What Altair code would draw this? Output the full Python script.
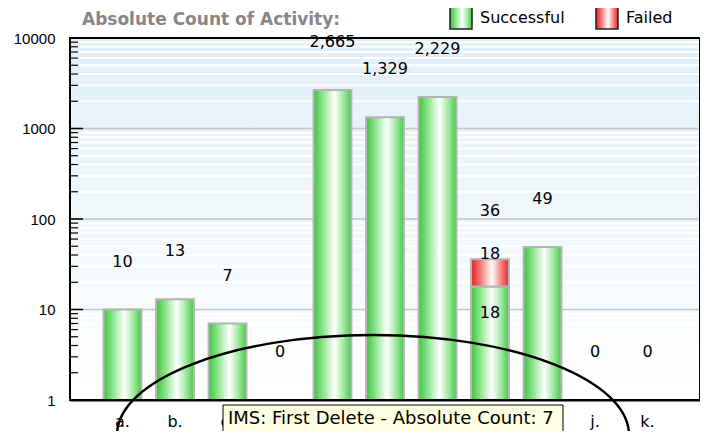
import altair as alt
import pandas as pd

categories = ["a.", "b.", "c.", "d.", "e.", "f.", "g.", "h.", "i.", "j.", "k."]
successful = [10, 13, 7, 0, 2665, 1329, 2229, 18, 49, 0, 0]
failed = [0, 0, 0, 0, 0, 0, 0, 18, 0, 0, 0]
statuses = ["Successful", "Failed"]
major_ticks = [1, 10, 100, 1000, 10000]
grid_major = [10, 100, 1000]
minor_ticks = [m * d for d in [1, 10, 100, 1000] for m in range(2, 10)]
title_text = "Absolute Count of Activity:"
tooltip_text = "IMS: First Delete - Absolute Count: 7"

W, H = 630, 362

# ---- data tables built from the arrays ----
bar_rows = []
for c, s, f in zip(categories, successful, failed):
    if s > 0:
        bar_rows.append(dict(cat=c, status="Successful", lo=1, hi=s, value=s))
    if f > 0:
        bar_rows.append(dict(cat=c, status="Failed", lo=max(s, 1), hi=s + f, value=f))
bars_df = pd.DataFrame(bar_rows)

tot_df = pd.DataFrame({
    "cat": categories,
    "total": [s + f for s, f in zip(successful, failed)],
})
tot_df["pos"] = tot_df["total"].where(tot_df["total"] > 0, 1)

seg_fail = bars_df[(bars_df.status == "Failed")]
seg_succ = bars_df[(bars_df.status == "Successful") & bars_df.cat.isin(seg_fail.cat)]

minor_df = pd.DataFrame({"v": minor_ticks})
major_df = pd.DataFrame({"v": major_ticks})
gridmaj_df = pd.DataFrame({"v": grid_major})
one = pd.DataFrame({"k": [0]})

FONT = "DejaVu Sans"

green = ("{gradient:'linear',x1:0,y1:0,x2:1,y2:0,stops:["
         "{offset:0,color:'#3cc43c'},{offset:0.25,color:'#8fe48f'},"
         "{offset:0.55,color:'#ffffff'},{offset:0.8,color:'#9be89b'},"
         "{offset:1,color:'#46c846'}]}")
red = ("{gradient:'linear',x1:0,y1:0,x2:1,y2:0,stops:["
       "{offset:0,color:'#e81c1c'},{offset:0.25,color:'#f47a7a'},"
       "{offset:0.55,color:'#ffffff'},{offset:0.8,color:'#f48080'},"
       "{offset:1,color:'#ea2222'}]}")

xscale = alt.Scale(domain=categories, paddingInner=0.28, paddingOuter=0.64)
yscale = alt.Scale(type="log", domain=[1, 10000], nice=False)

xaxis = alt.Axis(title=None, labelAngle=0, labelFont=FONT, labelFontSize=16,
                 labelColor="black", ticks=False, tickSize=0, domainColor="black",
                 domainWidth=2, labelPadding=13, grid=False, zindex=0)
yaxis = alt.Axis(title=None, values=major_ticks, format="d", labelFont="Liberation Sans",
                 labelFontSize=15, labelColor="black", ticks=False, tickSize=0,
                 domainColor="black", domainWidth=2, labelPadding=15, grid=False, zindex=0)

def Y(field):
    return alt.Y(field, type="quantitative", scale=yscale, axis=yaxis)

background = alt.Chart(one).mark_rect(
    fill=alt.Gradient(gradient="linear", x1=0, x2=0, y1=0, y2=1,
                      stops=[alt.GradientStop(offset=0, color="#e1eff8"),
                             alt.GradientStop(offset=1, color="#ffffff")])
).encode(x=alt.value(0), x2=alt.value(W), y=alt.value(0), y2=alt.value(H))

minor_grid = alt.Chart(minor_df).mark_rule(color="white", strokeWidth=2).encode(
    y=Y("v"), x=alt.value(0), x2=alt.value(W))
major_grid = alt.Chart(gridmaj_df).mark_rule(color="#c4c4c4", strokeWidth=1.5).encode(
    y=Y("v"), x=alt.value(0), x2=alt.value(W))

bars = alt.Chart(bars_df).mark_bar(stroke="#b4b4b4", strokeWidth=2).encode(
    x=alt.X("cat:N", scale=xscale, axis=xaxis, sort=categories),
    y=Y("hi"),
    y2="lo:Q",
    color=alt.Color("status:N",
                    scale=alt.Scale(domain=statuses, range=[alt.ExprRef(green), alt.ExprRef(red)]),
                    legend=alt.Legend(title=None, orient="none", legendX=379, legendY=-32,
                                      direction="horizontal", symbolType="square",
                                      symbolSize=484, symbolStrokeColor="#222",
                                      symbolStrokeWidth=1.5, labelFont=FONT,
                                      labelFontSize=16, labelColor="black",
                                      labelOffset=7, columnPadding=28, padding=0)),
)

minor_tick_marks = alt.Chart(minor_df).mark_rule(color="black", strokeWidth=1.2).encode(
    y=Y("v"), x=alt.value(0), x2=alt.value(8))
major_tick_marks = alt.Chart(major_df).mark_rule(color="black", strokeWidth=1.5).encode(
    y=Y("v"), x=alt.value(0), x2=alt.value(13))

totals = alt.Chart(tot_df).mark_text(font=FONT, fontSize=16, color="black",
                                     baseline="middle", dy=-48).encode(
    x=alt.X("cat:N", scale=xscale, axis=xaxis, sort=categories),
    y=Y("pos"),
    text=alt.Text("total:Q", format=","),
)
fail_lbl = alt.Chart(seg_fail).mark_text(font=FONT, fontSize=16, color="black",
                                         baseline="middle", dy=-5).encode(
    x=alt.X("cat:N", scale=xscale, axis=xaxis, sort=categories),
    y=Y("hi"), text=alt.Text("value:Q", format=","))
succ_lbl = alt.Chart(seg_succ).mark_text(font=FONT, fontSize=16, color="black",
                                         baseline="middle", dy=27).encode(
    x=alt.X("cat:N", scale=xscale, axis=xaxis, sort=categories),
    y=Y("hi"), text=alt.Text("value:Q", format=","))

border = alt.Chart(one).mark_rect(fill=None, filled=False, stroke="black", strokeWidth=2).encode(
    x=alt.value(0), x2=alt.value(W), y=alt.value(0), y2=alt.value(H))

title = alt.Chart(one).mark_text(text=title_text, font=FONT, fontWeight="bold", fontSize=17,
                                 color="#868686", align="left", baseline="middle").encode(
    x=alt.value(12), y=alt.value(-18))

tip_box = alt.Chart(one).mark_rect(fill="#ffffe1", stroke="black", strokeWidth=1).encode(
    x=alt.value(153), x2=alt.value(493), y=alt.value(367), y2=alt.value(395))
tip_text = alt.Chart(one).mark_text(text=tooltip_text, font=FONT, fontSize=18, color="black",
                                    align="left", baseline="middle").encode(
    x=alt.value(158), y=alt.value(381))

ellipse = alt.Chart(one).mark_point(
    shape="M -256,0 A 256,100 0 1,1 256,0 A 256,100 0 1,1 -256,0 Z",
    size=4, filled=False, color="black", strokeWidth=2.5, opacity=1,
).encode(x=alt.value(303), y=alt.value(397))

chart = alt.layer(
    background, minor_grid, major_grid, bars, minor_tick_marks, major_tick_marks,
    totals, fail_lbl, succ_lbl, border, title, tip_box, tip_text, ellipse,
).properties(
    width=W, height=H,
    padding={"left": 62, "top": 30, "right": 0, "bottom": 31},
    autosize=alt.AutoSizeParams(type="none"),
).configure_view(stroke=None)

chart.save("out.html", embed_options={"renderer": "svg", "actions": False})
